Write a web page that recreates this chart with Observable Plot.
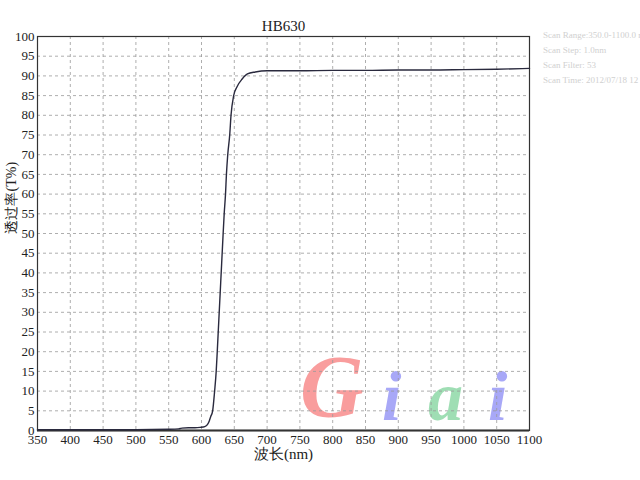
<!DOCTYPE html>
<html>
<head>
<meta charset="utf-8">
<script src="https://cdn.jsdelivr.net/npm/d3@7"></script>
<script src="https://cdn.jsdelivr.net/npm/@observablehq/plot@0.6"></script>
<style>
  html, body { margin: 0; padding: 0; background: #fff; }
  #wrap { position: relative; width: 640px; height: 480px; overflow: hidden; }
  .info { position: absolute; left: 543px; font-family: "Liberation Serif", serif; font-size: 9px; color: #d0d0d0; white-space: nowrap; }
  .wm { position: absolute; font-family: "Liberation Serif", serif; font-style: italic; font-weight: bold; line-height: 1; opacity: 0.75; }
  svg text { font-family: "Liberation Serif", serif; }
</style>
</head>
<body>
<div id="wrap"></div>
<script>
const title = "HB630";
const xLabel = "波长(nm)";
const yLabel = "透过率(T%)";
const xTicks = d3.range(350, 1101, 50);
const yTicks = d3.range(0, 101, 5);
const wavelength = [350,400,450,500,550,565,570,580,590,598,605,609,612,614,617,620,622.4,624,625.5,627,628.5,630,631.5,633,634.6,636.6,638,640,643,645,649,654,662,670,682,700,750,800,850,900,950,1000,1050,1100];
const transmittance = [0.2,0.2,0.2,0.2,0.3,0.4,0.6,0.7,0.7,0.8,1.0,1.5,2.5,3.5,5,10,15,20,25,30,35,40,45,50,55,60,65,70,75,80,85,87.2,89.2,90.5,91.0,91.3,91.3,91.4,91.4,91.5,91.5,91.6,91.7,91.9];
const scanInfo = ["Scan Range:350.0-1100.0 nm", "Scan Step:   1.0nm", "Scan Filter:  53", "Scan Time:  2012/07/18  12"];
const watermark = [["G", "#f77d7d"], ["i", "#8c8cf5"], ["a", "#7fd39b"], ["i", "#8c8cf5"]];

const data = wavelength.map((w, i) => ({w, t: transmittance[i]}));

const wrap = document.getElementById("wrap");

// watermark behind the chart
const wmPos = [[300, 343, 88], [382, 362, 70], [428, 362, 70], [488, 362, 70]];
watermark.forEach(([ch, col], i) => {
  const s = document.createElement("div");
  s.className = "wm";
  s.textContent = ch;
  s.style.color = col;
  s.style.left = wmPos[i][0] + "px";
  s.style.top = wmPos[i][1] + "px";
  s.style.fontSize = wmPos[i][2] + "px";
  wrap.appendChild(s);
});

const serif = "'Liberation Serif', 'Times New Roman', serif";
const chart = Plot.plot({
  width: 640,
  height: 480,
  marginLeft: 37,
  marginRight: 111,
  marginTop: 36,
  marginBottom: 50,
  style: {fontFamily: serif, fontSize: "13px", color: "#222", background: "transparent"},
  x: {domain: [350, 1100]},
  y: {domain: [0, 100]},
  marks: [
    Plot.gridX(xTicks, {stroke: "#999", strokeOpacity: 1, strokeDasharray: "3,3", strokeWidth: 0.8}),
    Plot.gridY(yTicks, {stroke: "#999", strokeOpacity: 1, strokeDasharray: "3,3", strokeWidth: 0.8}),
    Plot.axisX(xTicks, {tickSize: 0, tickPadding: 4, tickFormat: d => String(d), label: null, fontFamily: serif, fontSize: 13}),
    Plot.axisY(yTicks, {tickSize: 0, tickPadding: 3, tickFormat: d => String(d), label: null, fontFamily: serif, fontSize: 13}),
    Plot.frame({stroke: "#333", strokeWidth: 1.2}),
    Plot.ruleY([0], {stroke: "#333", strokeWidth: 2}),
    Plot.line(data, {x: "w", y: "t", curve: "monotone-x", stroke: "#2a2a3e", strokeWidth: 1.4}),
    Plot.text([title], {frameAnchor: "top", dy: -16, fontSize: 15, fontFamily: "'Liberation Sans', sans-serif", fill: "#222"}),
    Plot.text([xLabel], {frameAnchor: "bottom", dy: 28, fontSize: 15, fontFamily: "'Noto Sans CJK SC', " + serif, fill: "#222"}),
    Plot.text([yLabel], {frameAnchor: "left", dx: -26, rotate: -90, fontSize: 14, fontFamily: "'Noto Sans CJK SC', " + serif, fill: "#222"})
  ]
});
chart.style.position = "absolute";
chart.style.left = "0";
chart.style.top = "0";
wrap.appendChild(chart);

scanInfo.forEach((t, i) => {
  const d = document.createElement("div");
  d.className = "info";
  d.textContent = t;
  d.style.top = (30 + i * 15) + "px";
  wrap.appendChild(d);
});
</script>
</body>
</html>
